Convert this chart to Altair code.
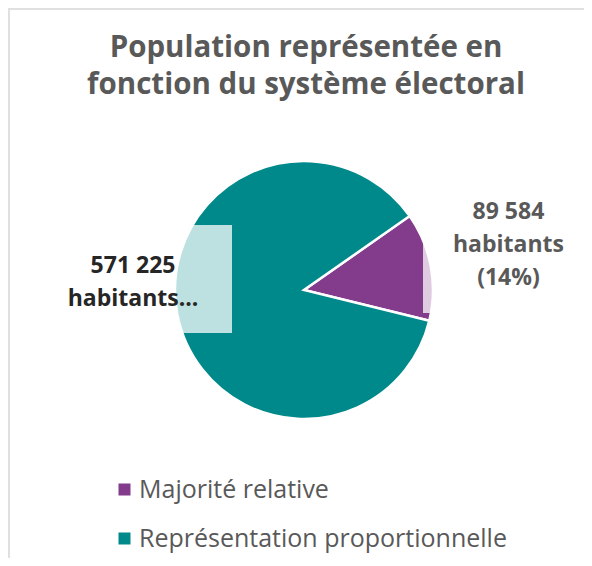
import math
import altair as alt
import pandas as pd

categories = ["Majorité relative", "Représentation proportionnelle"]
values = [89584, 571225]
colors = ["#833B8C", "#00898A"]
title_lines = ["Population représentée en", "fonction du système électoral"]

total = sum(values)


def fr(v):
    return f"{v:,}".replace(",", " ")


labels = [
    f"{fr(values[0])}\nhabitants\n({round(values[0] / total * 100)}%)",
    f"{fr(values[1])}\nhabitants...",
]

df = pd.DataFrame({"cat": categories, "value": values, "idx": [0, 1], "label": labels})

W, H = 576, 550
START = 0.96
CX, CY = 296, 282
R = 129
theta_scale = alt.Scale(domain=[0, total], range=[START, START + 2 * math.pi])

base = (
    alt.Chart(df)
    .transform_window(v1="sum(value)", sort=[alt.SortField("idx")], frame=[None, 0])
    .transform_calculate(v0="datum.v1 - datum.value")
    .transform_calculate(mid="datum.v1 - datum.value / 2")
)

arcs = base.mark_arc(outerRadius=R, stroke="white", strokeWidth=2.5).encode(
    theta=alt.Theta("v0:Q", scale=theta_scale),
    theta2="v1:Q",
    color=alt.Color(
        "cat:N",
        scale=alt.Scale(domain=categories, range=colors),
        legend=alt.Legend(
            title=None,
            orient="none",
            legendX=104,
            legendY=469,
            symbolType="square",
            symbolSize=144,
            symbolStrokeWidth=0,
            symbolOpacity=1,
            labelFont="Open Sans",
            labelFontSize=25,
            labelColor="#595959",
            labelOffset=2,
            rowPadding=23,
            padding=0,
            labelLimit=500,
        ),
    ),
    x=alt.value(CX),
    y=alt.value(CY),
)

one = alt.Data(values=[{}])

box_left = alt.Chart(one).mark_rect(fill="white", opacity=0.74).encode(
    x=alt.value(52), x2=alt.value(224), y=alt.value(217), y2=alt.value(325)
)
box_right = alt.Chart(one).mark_rect(fill="white", opacity=0.74).encode(
    x=alt.value(415), x2=alt.value(570), y=alt.value(198), y2=alt.value(305)
)

lab_right = base.transform_filter("datum.idx == 0").mark_text(
    font="Open Sans", fontWeight="bold", fontSize=23, color="#595959",
    lineBreak="\n", lineHeight=33, align="center", baseline="middle", dx=-1, dy=-40,
).encode(
    theta=alt.Theta("mid:Q", scale=theta_scale),
    radius=alt.value(209),
    text="label:N",
    x=alt.value(CX),
    y=alt.value(CY),
)

lab_left = base.transform_filter("datum.idx == 1").mark_text(
    font="Open Sans", fontWeight="bold", fontSize=23, color="#262626",
    lineBreak="\n", lineHeight=33, align="center", baseline="middle", dx=3, dy=-57,
).encode(
    theta=alt.Theta("mid:Q", scale=theta_scale),
    radius=alt.value(177),
    text="label:N",
    x=alt.value(CX),
    y=alt.value(CY),
)

title = alt.Chart(one).mark_text(
    text="\n".join(title_lines), lineBreak="\n", font="Open Sans", fontWeight="bold",
    fontSize=29.5, color="#595959", align="center", baseline="alphabetic", lineHeight=37,
).encode(x=alt.value(298), y=alt.value(49))

border_top = alt.Chart(one).mark_rule(color="#E0E0E0", strokeWidth=2).encode(
    x=alt.value(0), x2=alt.value(W), y=alt.value(1)
)
border_left = alt.Chart(one).mark_rule(color="#E0E0E0", strokeWidth=2).encode(
    x=alt.value(1), y=alt.value(0), y2=alt.value(H)
)

chart = (
    alt.layer(arcs, box_left, box_right, lab_right, lab_left, title, border_top, border_left)
    .properties(width=W, height=H, autosize=alt.AutoSizeParams(type="none"), padding=0)
    .configure_view(stroke=None)
)

chart.save("out.html", embed_options={"renderer": "svg", "actions": False})
